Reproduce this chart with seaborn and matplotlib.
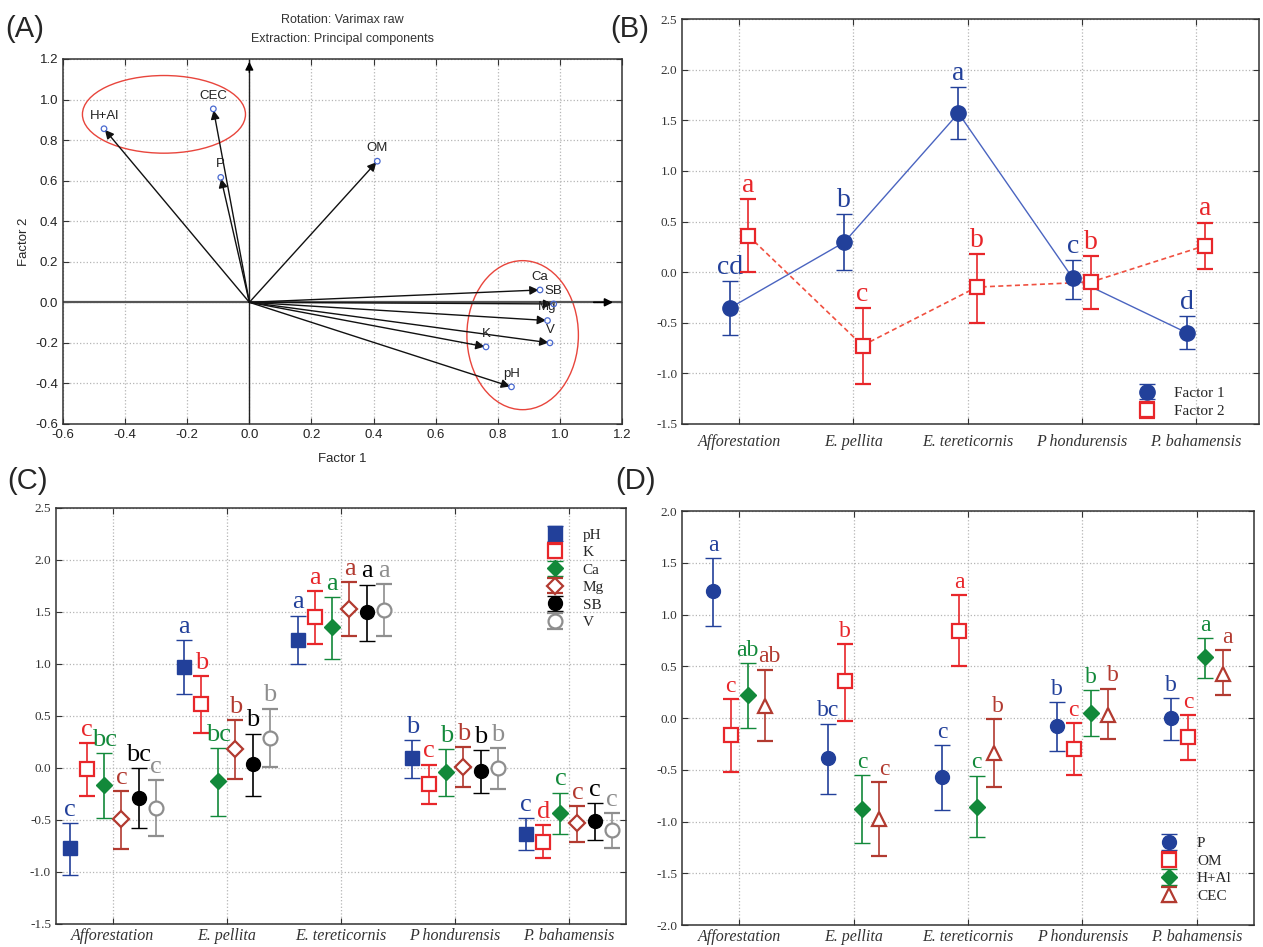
"""
Figura de cuatro paneles: cargas factoriales (A) y medias por sitio (B-D).
"""

import numpy as np
import pandas as pd
import seaborn as sns
import matplotlib
matplotlib.use("Agg")
from matplotlib import pyplot as plt
from matplotlib.patches import Ellipse

# ---------------- datos ----------------
sitios = ["Afforestation", "E. pellita", "E. tereticornis", "P hondurensis", "P. bahamensis"]

# panel A: cargas (Factor 1, Factor 2)
variables_a = ["H+Al", "CEC", "P", "OM", "Ca", "SB", "Mg", "V", "K", "pH"]
carga_f1 = [-0.468, -0.116, -0.092, 0.412, 0.936, 0.980, 0.960, 0.968, 0.762, 0.844]
carga_f2 = [0.856, 0.954, 0.616, 0.696, 0.061, -0.008, -0.090, -0.200, -0.220, -0.417]

# panel B
f1_media = [-0.354, 0.295, 1.570, -0.059, -0.600]
f1_inf = [-0.620, 0.023, 1.318, -0.262, -0.764]
f1_sup = [-0.085, 0.574, 1.826, 0.115, -0.436]
f1_letras = ["cd", "b", "a", "c", "d"]
f2_media = [0.360, -0.725, -0.148, -0.098, 0.262]
f2_inf = [0.000, -1.108, -0.500, -0.364, 0.030]
f2_sup = [0.720, -0.354, 0.180, 0.160, 0.490]
f2_letras = ["a", "c", "b", "b", "a"]

# panel C
ph_media = [-0.770, 0.970, 1.233, 0.093, -0.636]
ph_inf = [-1.026, 0.710, 0.997, -0.100, -0.790]
ph_sup = [-0.527, 1.230, 1.466, 0.265, -0.480]
ph_letras = ["c", "a", "a", "b", "c"]
k_media = [-0.013, 0.617, 1.450, -0.153, -0.710]
k_inf = [-0.270, 0.335, 1.195, -0.348, -0.870]
k_sup = [0.240, 0.880, 1.700, 0.032, -0.550]
k_letras = ["c", "b", "a", "c", "d"]
ca_media = [-0.163, -0.128, 1.360, -0.038, -0.430]
ca_inf = [-0.480, -0.457, 1.050, -0.265, -0.633]
ca_sup = [0.140, 0.190, 1.645, 0.180, -0.236]
ca_letras = ["bc", "bc", "a", "b", "c"]
mg_media = [-0.490, 0.182, 1.530, 0.013, -0.527]
mg_inf = [-0.780, -0.105, 1.270, -0.185, -0.710]
mg_sup = [-0.220, 0.463, 1.786, 0.200, -0.370]
mg_letras = ["c", "b", "a", "b", "c"]
sb_media = [-0.290, 0.038, 1.500, -0.032, -0.505]
sb_inf = [-0.580, -0.270, 1.217, -0.243, -0.690]
sb_sup = [0.000, 0.330, 1.764, 0.170, -0.340]
sb_letras = ["bc", "b", "a", "b", "c"]
v_media = [-0.380, 0.290, 1.520, 0.000, -0.600]
v_inf = [-0.655, 0.006, 1.270, -0.200, -0.770]
v_sup = [-0.115, 0.570, 1.770, 0.190, -0.434]
v_letras = ["c", "b", "a", "b", "c"]

# panel D
p_media = [1.224, -0.386, -0.570, -0.074, -0.003]
p_inf = [0.892, -0.734, -0.889, -0.316, -0.209]
p_sup = [1.543, -0.055, -0.264, 0.151, 0.193]
p_letras = ["a", "bc", "c", "b", "b"]
om_media = [-0.161, 0.354, 0.844, -0.296, -0.184]
om_inf = [-0.520, -0.026, 0.506, -0.551, -0.406]
om_sup = [0.184, 0.712, 1.185, -0.052, 0.026]
om_letras = ["c", "b", "a", "c", "c"]
hal_media = [0.222, -0.879, -0.857, 0.052, 0.589]
hal_inf = [-0.093, -1.211, -1.150, -0.171, 0.386]
hal_sup = [0.531, -0.554, -0.557, 0.270, 0.773]
hal_letras = ["ab", "c", "c", "b", "a"]
cec_media = [0.113, -0.976, -0.338, 0.032, 0.428]
cec_inf = [-0.225, -1.337, -0.667, -0.206, 0.220]
cec_sup = [0.467, -0.618, -0.010, 0.283, 0.654]
cec_letras = ["ab", "c", "b", "b", "a"]

AZUL = "#22409a"
ROJO = "#e8262a"
VERDE = "#12893a"
GRANATE = "#b23a30"
GRIS = "#8e8e8e"

SERIF = ["Liberation Serif", "DejaVu Serif"]
SANS = ["Liberation Sans", "DejaVu Sans"]


def estilo_ejes(ax, ymin, ymax, paso, pad_x):
	ax.set_ylim(ymin, ymax)
	ax.set_yticks(np.arange(ymin, ymax + 1e-9, paso))
	ax.set_yticklabels([f"{v:.1f}" for v in np.arange(ymin, ymax + 1e-9, paso)], fontsize=9.5,
					   color="#333333")
	ax.grid(True, linestyle=":", color="#b5b5b5", linewidth=0.9)
	ax.set_axisbelow(True)
	ax.tick_params(direction="in", top=True, right=True, length=4, color="#333333")
	for s in ax.spines.values():
		s.set_color("#333333")
		s.set_linewidth(1.1)
	ax.set_xlim(-0.5, 4.5)
	ax.set_xticks(range(len(sitios)))
	ax.set_xticklabels(sitios, fontsize=11.5, fontstyle="italic", color="#333333")
	ax.tick_params(axis="x", pad=pad_x)


def serie(ax, desplaz, media, inf, sup, letras, color, marcador, lleno, ms, etiqueta, fs_letra,
		  dx_letra=0.0):
	x = np.arange(len(media)) + desplaz
	media = np.array(media)
	err = [media - np.array(inf), np.array(sup) - media]
	cont = ax.errorbar(
		x, media, yerr=err, fmt=marcador, color=color, ms=ms,
		mfc=color if lleno else "white", mec=color, mew=1.6 if not lleno else 1.0,
		ecolor=color, elinewidth=1.2, capsize=6, capthick=1.2, label=etiqueta, zorder=3,
	)
	for xi, si, le in zip(x, sup, letras):
		ax.text(xi + dx_letra, si + 0.07, le, color=color, fontsize=fs_letra, ha="center",
				va="baseline")
	return cont


sns.set_style("ticks")
plt.rcParams["font.family"] = SERIF

fig = plt.figure(figsize=(12.63, 9.47), dpi=100)
ax_a = fig.add_axes([0.0499, 0.5523, 0.4426, 0.3854])
ax_b = fig.add_axes([0.5400, 0.5523, 0.4568, 0.4276])
ax_c = fig.add_axes([0.0443, 0.0243, 0.4513, 0.4393])
ax_d = fig.add_axes([0.5400, 0.0232, 0.4529, 0.4372])

# ---------------- panel A ----------------
ax_a.set_xlim(-0.6, 1.2)
ax_a.set_ylim(-0.6, 1.2)
ticks_a = np.arange(-0.6, 1.21, 0.2)
ax_a.set_xticks(ticks_a)
ax_a.set_yticks(ticks_a)
ax_a.set_xticklabels([f"{v:.1f}" for v in ticks_a], family=SANS, fontsize=9.5, color="#222222")
ax_a.set_yticklabels([f"{v:.1f}" for v in ticks_a], family=SANS, fontsize=9.5, color="#222222")
ax_a.grid(True, linestyle=":", color="#b5b5b5", linewidth=0.9)
ax_a.set_axisbelow(True)
ax_a.tick_params(direction="in", top=True, right=True, length=4, color="#333333")
for s in ax_a.spines.values():
	s.set_color("#333333")
	s.set_linewidth(1.1)
ax_a.set_xlabel("Factor 1", family=SANS, fontsize=9.5, labelpad=9)
ax_a.set_ylabel("Factor 2", family=SANS, fontsize=9.5, labelpad=4)
ax_a.set_title("Rotation: Varimax raw\nExtraction: Principal components", family=SANS,
			   fontsize=9, linespacing=1.8, pad=12, color="#333333")

# ejes con flecha
ax_a.plot([-0.6, 1.2], [0, 0], color="#555555", lw=1.6, zorder=2)
ax_a.annotate("", xy=(1.18, 0), xytext=(1.10, 0),
			  arrowprops=dict(arrowstyle="-|>", color="black", lw=1.2, mutation_scale=12))
ax_a.plot([0, 0], [-0.6, 1.2], color="#222222", lw=1.0, zorder=2)
ax_a.annotate("", xy=(0, 1.2), xytext=(0, 1.12),
			  arrowprops=dict(arrowstyle="-|>", color="black", lw=1.0, mutation_scale=12))

for nombre, xf, yf in zip(variables_a, carga_f1, carga_f2):
	ax_a.annotate("", xy=(xf, yf), xytext=(0, 0),
				  arrowprops=dict(arrowstyle="-|>", color="#111111", lw=1.0,
								  mutation_scale=13, shrinkA=0, shrinkB=1))
	ax_a.text(xf, yf + 0.035, nombre, family=SANS, fontsize=9.5, ha="center", va="bottom",
			  color="#222222")
sns.scatterplot(x=carga_f1, y=carga_f2, ax=ax_a, marker="o", s=16, facecolor="none",
				edgecolor="#4a6ad0", linewidth=0.9, zorder=4)
ax_a.add_patch(Ellipse((-0.275, 0.927), 0.525, 0.383, fill=False, ec="#e8453c", lw=1.0))
ax_a.add_patch(Ellipse((0.880, -0.162), 0.359, 0.735, fill=False, ec="#e8453c", lw=1.0))

# ---------------- panel B ----------------
estilo_ejes(ax_b, -1.5, 2.5, 0.5, 7)
ax_b.set_xlim(-0.5, 4.55)
x1 = np.arange(5) - 0.08
x2 = np.arange(5) + 0.08
sns.lineplot(x=x1, y=f1_media, ax=ax_b, color="#4a64c0", lw=1.0, zorder=2)
sns.lineplot(x=x2, y=f2_media, ax=ax_b, color="#f05040", lw=1.2, linestyle=(0, (3, 2)), zorder=2)
h1 = serie(ax_b, -0.08, f1_media, f1_inf, f1_sup, f1_letras, AZUL, "o", True, 11, "Factor 1", 20)
h2 = serie(ax_b, 0.08, f2_media, f2_inf, f2_sup, f2_letras, ROJO, "s", False, 10, "Factor 2", 20)
ax_b.legend(handles=[h1, h2], loc="lower right", frameon=False, fontsize=11,
			bbox_to_anchor=(0.965, -0.02), handlelength=2.0, labelspacing=0.3)

# ---------------- panel C ----------------
estilo_ejes(ax_c, -1.5, 2.5, 0.5, 3)
series_c = [
	(-0.375, ph_media, ph_inf, ph_sup, ph_letras, AZUL, "s", True, 10, "pH"),
	(-0.225, k_media, k_inf, k_sup, k_letras, ROJO, "s", False, 10, "K"),
	(-0.075, ca_media, ca_inf, ca_sup, ca_letras, VERDE, "D", True, 8, "Ca"),
	(0.075, mg_media, mg_inf, mg_sup, mg_letras, GRANATE, "D", False, 8, "Mg"),
	(0.225, sb_media, sb_inf, sb_sup, sb_letras, "black", "o", True, 10, "SB"),
	(0.375, v_media, v_inf, v_sup, v_letras, GRIS, "o", False, 10, "V"),
]
hs_c = [serie(ax_c, *s, 19) for s in series_c]
ax_c.legend(handles=hs_c, loc="upper right", frameon=False, fontsize=11,
			bbox_to_anchor=(0.985, 0.985), handlelength=2.0, labelspacing=0.25)

# ---------------- panel D ----------------
estilo_ejes(ax_d, -2.0, 2.0, 0.5, 3)
series_d = [
	(-0.225, p_media, p_inf, p_sup, p_letras, AZUL, "o", True, 10, "P", 17),
	(-0.075, om_media, om_inf, om_sup, om_letras, ROJO, "s", False, 10, "OM", 17),
	(0.075, hal_media, hal_inf, hal_sup, hal_letras, VERDE, "D", True, 8, "H+Al", 17),
	(0.225, cec_media, cec_inf, cec_sup, cec_letras, GRANATE, "^", False, 10, "CEC", 17, 0.04),
]
hs_d = [serie(ax_d, *s) for s in series_d]
ax_d.legend(handles=hs_d, loc="lower right", frameon=False, fontsize=11,
			bbox_to_anchor=(0.985, 0.02), handlelength=2.0, labelspacing=0.25)

# etiquetas de panel
for txt, x, y in [("(A)", 0.004, 0.955), ("(B)", 0.483, 0.955),
				  ("(C)", 0.006, 0.477), ("(D)", 0.487, 0.477)]:
	fig.text(x, y, txt, family=SANS, fontsize=21, ha="left", va="bottom")

fig.savefig("out.png", dpi=100)
